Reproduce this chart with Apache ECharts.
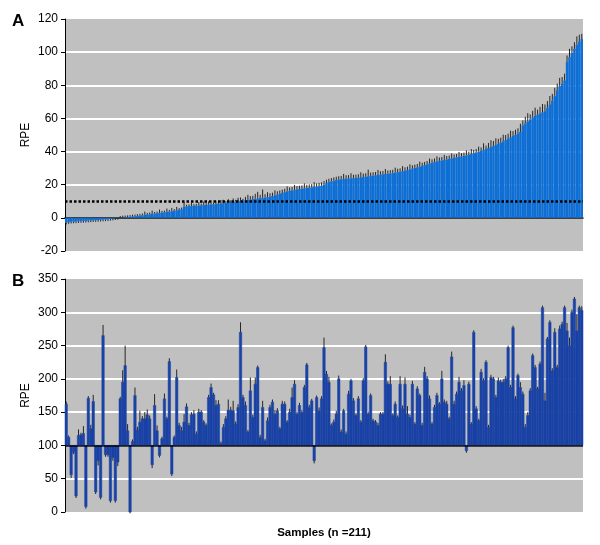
<!DOCTYPE html>
<html>
<head>
<meta charset="utf-8">
<script src="https://cdn.jsdelivr.net/npm/echarts@6/dist/echarts.min.js"></script>
<style>
  html, body { margin: 0; padding: 0; background: #fff; }
  #main { width: 600px; height: 545px; }
</style>
</head>
<body>
<div id="main"></div>
<script>
// panel A : sorted RPE per sample (n = 211)
var rpeA = [
  -3.0, -2.6, -2.4, -2.3, -2.2, -2.1, -2.0, -1.9, -1.8, -1.7,
  -1.6, -1.5, -1.4, -1.3, -1.2, -1.1, -1.0, -0.9, -0.7, -0.5,
  -0.3, -0.1, 0.1, 0.3, 0.4, 0.5, 0.7, 0.9, 1.0, 1.2,
  1.4, 1.6, 1.8, 2.0, 2.2, 2.4, 2.6, 2.8, 3.0, 3.2,
  3.4, 3.6, 3.8, 4.0, 4.3, 4.6, 4.9, 5.2, 6.6, 6.9,
  7.1, 7.2, 7.3, 7.4, 7.5, 7.6, 7.8, 7.9, 8.0, 8.1,
  8.2, 8.3, 8.5, 8.7, 8.9, 9.1, 9.3, 9.5, 9.7, 9.9,
  10.1, 10.3, 10.5, 10.7, 10.9, 11.1, 11.3, 11.5, 11.7, 11.9,
  12.1, 12.3, 12.5, 12.8, 13.2, 13.6, 14.0, 14.5, 15.0, 15.5,
  16.0, 16.3, 16.6, 16.9, 17.2, 17.4, 17.6, 17.8, 18.0, 18.2,
  18.4, 18.6, 18.8, 19.1, 19.4, 20.2, 21.0, 21.6, 22.0, 22.4,
  22.8, 23.1, 23.3, 23.5, 23.7, 23.8, 23.9, 24.0, 24.1, 24.3,
  24.5, 24.7, 24.9, 25.1, 25.3, 25.5, 25.7, 25.9, 26.1, 26.3,
  26.5, 26.6, 26.8, 27.0, 27.3, 27.6, 27.9, 28.2, 28.5, 28.9,
  29.3, 29.7, 30.1, 30.5, 30.9, 31.3, 31.8, 32.3, 32.8, 33.3,
  33.8, 34.1, 34.4, 34.7, 35.0, 35.3, 35.6, 35.9, 36.2, 36.5,
  36.8, 37.1, 37.4, 37.7, 38.0, 38.5, 39.0, 39.5, 40.0, 40.5,
  41.0, 41.6, 42.2, 42.8, 43.4, 44.0, 44.7, 45.4, 46.2, 47.0,
  47.8, 48.6, 49.4, 50.2, 51.0, 51.8, 55.8, 57.0, 58.2, 59.4,
  60.6, 61.5, 62.3, 63.0, 63.7, 64.4, 66.5, 68.5, 70.8, 73.5,
  77.0, 79.5, 81.0, 83.0, 94.0, 97.0, 99.5, 102.0, 104.5, 106.5,
  108.0
];
var errA = [
  1, 1, 1, 1, 1, 1, 1, 1, 1, 1,
  1, 1, 1, 1, 1, 1, 1, 1, 1, 1,
  1, 1, 1, 1, 1, 1, 1, 1, 1, 1,
  1, 1, 2, 1, 1, 2, 1, 1, 2, 1,
  1, 2, 1, 2, 1, 2, 1, 1, 3, 1,
  1, 2, 1, 1, 2, 1, 2, 1, 2, 1,
  1, 2, 1, 2, 2, 1, 2, 1, 2, 1,
  2, 2, 1, 2, 3, 2, 2, 3, 4, 2,
  5, 2, 3, 2, 2, 3, 2, 2, 2, 2,
  3, 2, 2, 3, 2, 2, 2, 3, 2, 2,
  2, 3, 2, 2, 2, 2, 2, 2, 2, 2,
  2, 2, 2, 3, 2, 2, 3, 2, 2, 2,
  3, 2, 2, 4, 2, 2, 2, 3, 2, 2,
  3, 2, 2, 2, 3, 2, 2, 3, 2, 2,
  3, 2, 2, 2, 3, 2, 2, 2, 3, 2,
  2, 3, 2, 2, 3, 2, 2, 3, 2, 2,
  3, 2, 2, 3, 2, 3, 2, 2, 3, 2,
  4, 2, 3, 4, 3, 4, 3, 3, 4, 3,
  3, 4, 3, 3, 3, 5, 3, 4, 5, 3,
  4, 5, 3, 4, 5, 4, 4, 5, 4, 5,
  4, 5, 4, 4, 4, 5, 4, 4, 5, 4,
  3
];
// panel B : RPE per sample, bars drawn from 100
var rpeB = [
  162, 112, 56, 90, 24, 115, 116, 118, 8, 171,
  125, 166, 30, 77, 22, 265, 86, 86, 17, 82,
  17, 75, 170, 195, 220, 122, 0, 106, 175, 123,
  135, 140, 140, 146, 140, 71, 160, 122, 85, 110,
  170, 140, 226, 57, 112, 202, 130, 122, 135, 158,
  130, 146, 147, 117, 150, 150, 135, 130, 172, 187,
  176, 160, 162, 103, 127, 140, 153, 153, 152, 132,
  157, 270, 172, 160, 120, 182, 142, 192, 217, 112,
  157, 107, 137, 157, 165, 147, 152, 125, 162, 162,
  135, 150, 172, 192, 147, 160, 150, 187, 221, 157,
  167, 77, 172, 152, 170, 247, 207, 195, 130, 135,
  147, 200, 120, 152, 117, 177, 197, 167, 145, 170,
  135, 197, 248, 147, 175, 137, 135, 130, 147, 147,
  225, 192, 192, 145, 162, 142, 192, 155, 192, 147,
  142, 192, 132, 185, 175, 130, 210, 200, 170, 132,
  157, 175, 162, 200, 165, 162, 140, 233, 162, 177,
  195, 182, 190, 92, 192, 132, 270, 155, 137, 210,
  197, 225, 127, 202, 200, 172, 197, 195, 195, 200,
  247, 187, 277, 170, 205, 187, 177, 127, 145, 182,
  235, 217, 185, 222, 307, 167, 260, 285, 212, 270,
  217, 275, 282, 307, 272, 250, 300, 320, 272, 307,
  303
];
var errB = [
  4, 3, 5, 3, 3, 9, 3, 11, 3, 3,
  6, 10, 3, 7, 3, 16, 3, 3, 3, 5,
  3, 6, 3, 18, 30, 10, 2, 3, 12, 5,
  17, 4, 10, 8, 5, 5, 17, 8, 3, 3,
  8, 3, 5, 3, 3, 12, 4, 6, 12, 5,
  4, 4, 6, 4, 5, 3, 3, 3, 4, 6,
  3, 8, 6, 3, 5, 4, 16, 5, 15, 4,
  5, 15, 4, 6, 3, 20, 4, 10, 3, 4,
  10, 3, 5, 4, 4, 6, 4, 3, 5, 4,
  3, 5, 15, 6, 4, 4, 3, 4, 3, 4,
  3, 4, 3, 5, 4, 15, 5, 8, 3, 4,
  5, 5, 4, 3, 4, 5, 3, 4, 3, 4,
  3, 4, 3, 4, 3, 3, 3, 4, 3, 3,
  12, 4, 12, 3, 4, 3, 12, 5, 10, 12,
  4, 5, 3, 4, 3, 4, 8, 4, 5, 3,
  4, 4, 3, 12, 4, 5, 3, 8, 5, 4,
  8, 4, 8, 3, 4, 3, 3, 4, 3, 5,
  4, 3, 4, 4, 3, 4, 5, 4, 5, 4,
  3, 4, 3, 4, 3, 8, 4, 5, 5, 4,
  3, 4, 3, 4, 3, 12, 3, 3, 4, 6,
  4, 5, 4, 3, 12, 12, 4, 3, 25, 3,
  6
];
var baseB = 100;
var cutoffA = 10;

var samples = [];
for (var i = 0; i < rpeA.length; i++) samples.push('S' + (i + 1));

function errSeries(vals, errs) {
  var d = [];
  for (var i = 0; i < vals.length; i++) d.push([i, vals[i], errs[i]]);
  return d;
}

var errRender = function(base) {
  return function(params, api) {
    var v = api.value(1), e = api.value(2);
    var p1 = api.coord([api.value(0), v]);
    var p2 = api.coord([api.value(0), v >= base ? v + e : v - e]);
    return {
      type: 'line',
      shape: { x1: p1[0], y1: p1[1], x2: p2[0], y2: p2[1] },
      style: { stroke: '#262626', lineWidth: 1 }
    };
  };
};

var fontF = 'Liberation Sans, Arial, Helvetica, sans-serif';
var yAxisCommon = {
  axisLine: { show: true, lineStyle: { color: '#000', width: 1 } },
  axisTick: { show: true, length: 4, lineStyle: { color: '#000' } },
  axisLabel: { color: '#000', fontSize: 12, fontFamily: fontF, margin: 7 },
  splitLine: { show: true, showMinLine: false, showMaxLine: false, lineStyle: { color: '#fff', width: 2 } },
  name: 'RPE',
  nameLocation: 'middle',
  nameRotate: 90,
  nameGap: 33,
  nameMoveOverlap: false,
  nameTextStyle: { color: '#000', fontSize: 12, fontFamily: fontF }
};

var myChart = echarts.init(document.getElementById('main'));
var option = {
  animation: false,
  backgroundColor: '#fff',
  grid: [
    { left: 65, right: 17, top: 19, height: 232, show: true, backgroundColor: '#c0c0c0', borderWidth: 0 },
    { left: 65, right: 17, top: 279, height: 233, show: true, backgroundColor: '#c0c0c0', borderWidth: 0 }
  ],
  xAxis: [
    { type: 'category', gridIndex: 0, data: samples,
      axisLine: { show: true, onZero: true, lineStyle: { color: '#000', width: 1.5 } },
      axisTick: { show: false }, axisLabel: { show: false }, splitLine: { show: false } },
    { type: 'category', gridIndex: 1, data: samples,
      axisLine: { show: false }, axisTick: { show: false }, axisLabel: { show: false }, splitLine: { show: false },
      name: 'Samples (n =211)', nameLocation: 'middle', nameGap: 15,
      nameTextStyle: { color: '#000', fontSize: 11.5, fontWeight: 'bold', fontFamily: fontF } }
  ],
  yAxis: [
    Object.assign({}, yAxisCommon, { gridIndex: 0, min: -20, max: 120, interval: 20 }),
    Object.assign({}, yAxisCommon, { gridIndex: 1, min: 0, max: 350, interval: 50 })
  ],
  graphic: [
    { type: 'text', left: 12, top: 13, style: { text: 'A', fontSize: 17, fontWeight: 'bold', fontFamily: fontF, fill: '#000' } },
    { type: 'text', left: 12, top: 273, style: { text: 'B', fontSize: 17, fontWeight: 'bold', fontFamily: fontF, fill: '#000' } }
  ],
  series: [
    {
      type: 'bar', xAxisIndex: 0, yAxisIndex: 0, data: rpeA,
      barCategoryGap: '0%',
      itemStyle: { color: '#0d6fd6' },
      markLine: {
        silent: true, symbol: 'none', label: { show: false },
        lineStyle: { color: '#000', type: [2.5, 2], width: 2.5 },
        data: [{ yAxis: cutoffA }]
      },
      z: 2
    },
    {
      type: 'custom', xAxisIndex: 0, yAxisIndex: 0,
      data: errSeries(rpeA, errA), encode: { x: 0, y: 1 },
      renderItem: errRender(0), z: 3
    },
    {
      type: 'custom', xAxisIndex: 1, yAxisIndex: 1,
      data: errSeries(rpeB, errB), encode: { x: 0, y: 1 },
      renderItem: function(params, api) {
        var idx = api.value(0), v = api.value(1);
        var top = api.coord([idx, v]);
        var bot = api.coord([idx, baseB]);
        var next = api.coord([idx + 1, baseB]);
        var w = Math.abs(next[0] - bot[0]);
        if (!(w > 0)) w = 518 / rpeB.length;
        return {
          type: 'rect',
          shape: { x: top[0] - w / 2, y: Math.min(top[1], bot[1]), width: w, height: Math.abs(bot[1] - top[1]) },
          style: { fill: '#1a42a5', stroke: '#1a42a5', lineWidth: 0.5 }
        };
      },
      markLine: {
        silent: true, symbol: 'none', label: { show: false },
        lineStyle: { color: '#000', type: 'solid', width: 1.5 },
        data: [{ yAxis: baseB }]
      },
      z: 2
    },
    {
      type: 'custom', xAxisIndex: 1, yAxisIndex: 1,
      data: errSeries(rpeB, errB), encode: { x: 0, y: 1 },
      renderItem: errRender(baseB), z: 3
    }
  ]
};
myChart.setOption(option);
</script>
</body>
</html>
